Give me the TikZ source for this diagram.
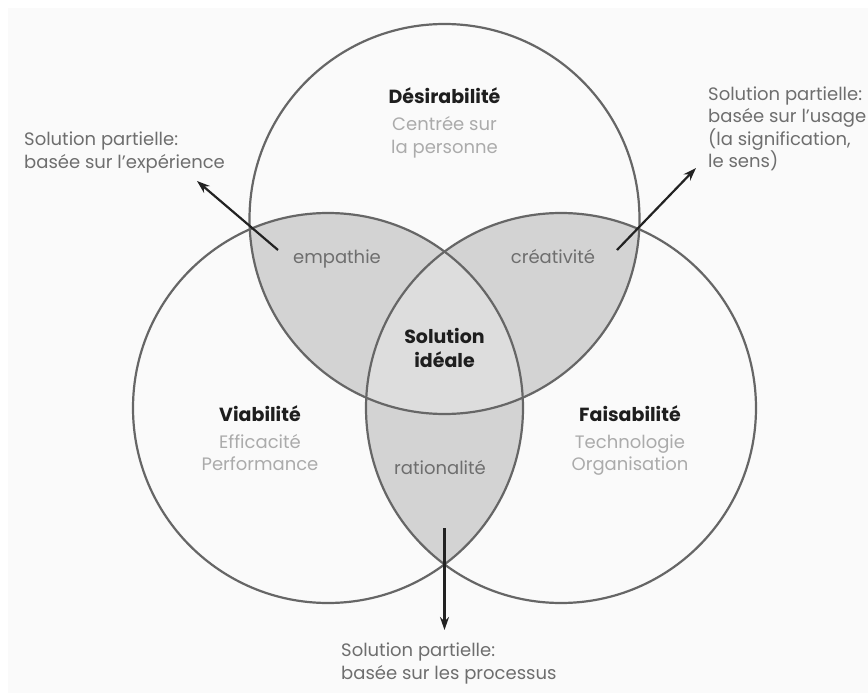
\documentclass[tikz,border=0pt]{standalone}
\usepackage{fontspec}
\setmainfont{Poppins}
\usepackage{tikz}
\usetikzlibrary{arrows.meta}
\definecolor{bgcol}{HTML}{FAFAFA}
\definecolor{ringcol}{HTML}{666666}
\definecolor{paircol}{HTML}{D3D3D3}
\definecolor{midcol}{HTML}{DDDDDD}
\definecolor{txtcol}{HTML}{6E6E6E}
\definecolor{subcol}{HTML}{ABABAB}
\definecolor{titlecol}{HTML}{1E1E1E}
\definecolor{arrcol}{HTML}{222222}

\begin{document}
\begin{tikzpicture}[x=1pt, y=-1pt]
        \tikzset{every node/.style={inner sep=0pt, font=\fontsize{18}{22.5}\selectfont}}
        \tikzset{title/.style={anchor=base, text=titlecol, font=\fontsize{19}{22.5}\selectfont\bfseries}}
        \tikzset{sub/.style={anchor=base, text=subcol}}
        \tikzset{zone/.style={anchor=base, text=txtcol}}
        \tikzset{note/.style={anchor=base west, align=left, text=txtcol}}
        \tikzset{ring/.style={draw=ringcol, line width=2.2pt}}
        \tikzset{outarrow/.style={-{Stealth[length=13pt, width=9pt]}, line width=2.2pt, draw=arrcol}}
        \useasboundingbox (0,0) rectangle (868,693);
        \fill[bgcol] (8,8) rectangle (868,693);
        % circle centres
        \coordinate (d) at (444.5,219);
        \coordinate (v) at (328,408);
        \coordinate (f) at (561,408);
        % two by two
        \begin{scope}
          \clip (d) circle (195);
          \fill[paircol] (v) circle (195);
          \fill[paircol] (f) circle (195);
        \end{scope}
        \begin{scope}
          \clip (v) circle (195);
          \fill[paircol] (f) circle (195);
        \end{scope}
        % all three
        \begin{scope}
          \clip (d) circle (195);
          \clip (v) circle (195);
          \fill[midcol] (f) circle (195);
        \end{scope}
        \draw[ring] (d) circle (195);
        \draw[ring] (v) circle (195);
        \draw[ring] (f) circle (195);
        % texts
        \node[title] (dt) at (444.5,103) {Désirabilité};
        \node[sub] (ds1) at (444.5,131) {Centrée sur};
        \node[sub] (ds2) at (444.5,153) {la personne};
        \node[title] (vt) at (260,421) {Viabilité};
        \node[sub] (vs1) at (260,448) {Efficacité};
        \node[sub] (vs2) at (260,470) {Performance};
        \node[title] (ft) at (630,421) {Faisabilité};
        \node[sub] (fs1) at (630,448) {Technologie};
        \node[sub] (fs2) at (630,470) {Organisation};
        \node[title] (s1) at (444.5,343) {Solution};
        \node[title] (s2) at (444.5,367) {idéale};
        \node[zone] (emp) at (337,263) {empathie};
        \node[zone] (cre) at (553,263) {créativité};
        \node[zone] (rat) at (440,474) {rationalité};
        % multi-line: base = last line
        \node[note] (nl) at (24,168) {Solution partielle:\\basée sur l’expérience};
        \node[note] (nr) at (708,167.5) {Solution partielle:\\basée sur l’usage\\(la signification,\\le sens)};
        \node[note] (nb) at (341,679) {Solution partielle:\\basée sur les processus};
        % arrows
        \coordinate (al0) at (278,250);
        \coordinate (al1) at (197,181);
        \coordinate (ar0) at (617,250);
        \coordinate (ar1) at (696,168);
        \coordinate (ab0) at (444.5,528);
        \coordinate (ab1) at (444.5,630);
        \path (al0) edge [outarrow] (al1);
        \path (ar0) edge [outarrow] (ar1);
        \path (ab0) edge [outarrow] (ab1);
      \end{tikzpicture}
\end{document}
